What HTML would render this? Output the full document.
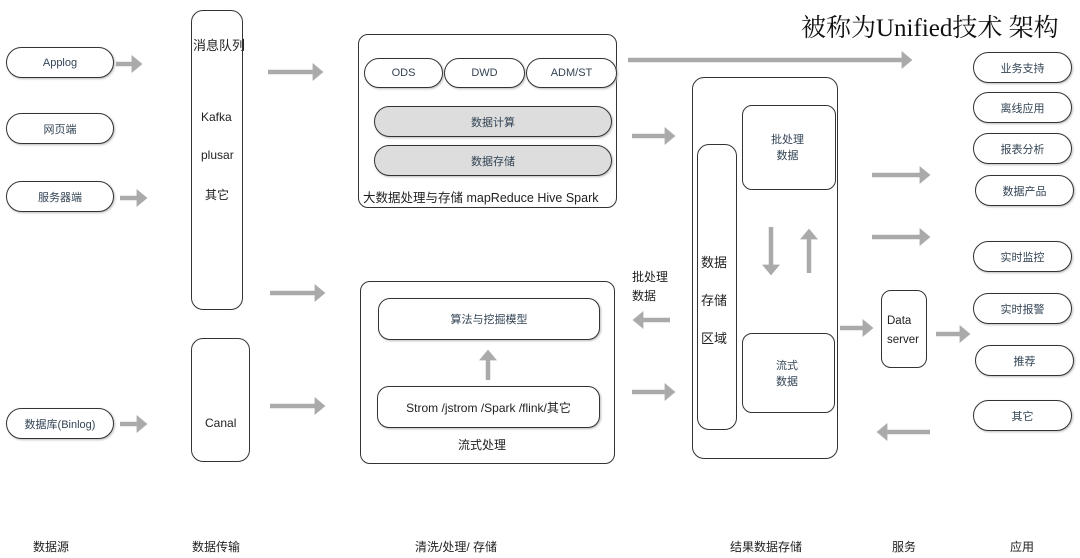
<!DOCTYPE html>
<html><head><meta charset="utf-8"><style>
body{margin:0;width:1080px;height:558px;background:#fff;position:relative;overflow:hidden;font-family:"Liberation Sans","Noto Sans CJK SC",sans-serif;color:#333}
.b{position:absolute;border:1.3px solid #333;border-radius:10px;box-sizing:border-box;background:#fff}
.p{position:absolute;border:1.3px solid #333;border-radius:16px;box-sizing:border-box;background:#fff;display:flex;align-items:center;justify-content:center;font-size:11px;color:#345;box-shadow:1px 1px 2px #bbb}
.g{background:#ddd}
.t{position:absolute;font-size:12px;color:#222;white-space:nowrap}
svg{position:absolute;left:0;top:0}
</style></head><body>
<div class="t" style="left:801px;top:8px;font-size:25px;font-family:'Liberation Serif','Noto Serif CJK SC',serif;color:#111">被称为Unified技术 架构</div>

<div class="p" style="left:6px;top:47px;width:108px;height:31px">Applog</div>
<div class="p" style="left:6px;top:113px;width:108px;height:31px">网页端</div>
<div class="p" style="left:6px;top:181px;width:108px;height:31px">服务器端</div>
<div class="p" style="left:6px;top:408px;width:108px;height:31px">数据库(Binlog)</div>

<div class="b" style="left:191px;top:10px;width:52px;height:300px;border-radius:12px"></div>
<div class="t" style="left:193px;top:35px;font-size:13px">消息队列</div>
<div class="t" style="left:201px;top:110px">Kafka</div>
<div class="t" style="left:201px;top:148px">plusar</div>
<div class="t" style="left:205px;top:186px">其它</div>
<div class="b" style="left:191px;top:338px;width:59px;height:124px;border-radius:12px"></div>
<div class="t" style="left:205px;top:416px">Canal</div>

<div class="b" style="left:358px;top:34px;width:259px;height:174px"></div>
<div class="p" style="left:364px;top:58px;width:79px;height:30px">ODS</div>
<div class="p" style="left:444px;top:58px;width:81px;height:30px">DWD</div>
<div class="p" style="left:526px;top:58px;width:91px;height:30px">ADM/ST</div>
<div class="p g" style="left:374px;top:106px;width:238px;height:31px">数据计算</div>
<div class="p g" style="left:374px;top:145px;width:238px;height:31px">数据存储</div>
<div class="t" style="left:363px;top:187px;font-size:12.5px">大数据处理与存储 mapReduce Hive Spark</div>

<div class="b" style="left:360px;top:281px;width:255px;height:183px"></div>
<div class="p" style="left:378px;top:298px;width:222px;height:42px;border-radius:12px">算法与挖掘模型</div>
<div class="p" style="left:377px;top:386px;width:223px;height:42px;border-radius:12px;font-size:12px;color:#222">Strom /jstrom /Spark /flink/其它</div>
<div class="t" style="left:458px;top:436px">流式处理</div>
<div class="t" style="left:632px;top:268px;line-height:19px">批处理<br>数据</div>

<div class="b" style="left:692px;top:77px;width:146px;height:382px;border-radius:12px"></div>
<div class="b" style="left:697px;top:144px;width:40px;height:286px;border-radius:12px"></div>
<div class="t" style="left:701px;top:244px;font-size:13px;line-height:38px">数据<br>存储<br>区域</div>
<div class="b" style="left:742px;top:105px;width:94px;height:85px"></div>
<div class="t" style="left:771px;top:132px;font-size:11px;line-height:16px;text-align:center;color:#345">批处理<br>数据</div>
<div class="b" style="left:742px;top:333px;width:93px;height:80px"></div>
<div class="t" style="left:776px;top:358px;font-size:11px;line-height:16px;text-align:center;color:#345">流式<br>数据</div>

<div class="b" style="left:881px;top:290px;width:46px;height:78px"></div>
<div class="t" style="left:887px;top:312px;line-height:19px;font-size:11.5px">Data<br>server</div>

<div class="p" style="left:973px;top:52px;width:99px;height:31px">业务支持</div>
<div class="p" style="left:973px;top:92px;width:99px;height:31px">离线应用</div>
<div class="p" style="left:973px;top:133px;width:99px;height:31px">报表分析</div>
<div class="p" style="left:975px;top:175px;width:99px;height:31px">数据产品</div>
<div class="p" style="left:973px;top:241px;width:99px;height:31px">实时监控</div>
<div class="p" style="left:973px;top:293px;width:99px;height:31px">实时报警</div>
<div class="p" style="left:975px;top:345px;width:99px;height:31px">推荐</div>
<div class="p" style="left:973px;top:400px;width:99px;height:31px">其它</div>

<div class="t" style="left:33px;top:538px">数据源</div>
<div class="t" style="left:192px;top:538px">数据传输</div>
<div class="t" style="left:415px;top:538px">清洗/处理/ 存储</div>
<div class="t" style="left:730px;top:538px">结果数据存储</div>
<div class="t" style="left:892px;top:538px">服务</div>
<div class="t" style="left:1010px;top:538px">应用</div>

<svg width="1080" height="558">
<defs><marker id="a" markerWidth="4" markerHeight="4" refX="1.2" refY="2" orient="auto" markerUnits="strokeWidth"><path d="M0,0 L2.4,2 L0,4Z" fill="#aaa"/></marker></defs>
<g stroke="#aaa" stroke-width="4.5" marker-end="url(#a)" fill="none">
<line x1="116" y1="64" x2="137" y2="64"/>
<line x1="120" y1="198" x2="142" y2="198"/>
<line x1="120" y1="424" x2="142" y2="424"/>
<line x1="268" y1="72" x2="318" y2="72"/>
<line x1="270" y1="293" x2="320" y2="293"/>
<line x1="270" y1="406" x2="320" y2="406"/>
<line x1="628" y1="60" x2="907" y2="60"/>
<line x1="632" y1="136" x2="670" y2="136"/>
<line x1="632" y1="392" x2="670" y2="392"/>
<line x1="670" y1="320" x2="638" y2="320"/>
<line x1="488" y1="380" x2="488" y2="355"/>
<line x1="771" y1="227" x2="771" y2="270"/>
<line x1="809" y1="273" x2="809" y2="234"/>
<line x1="872" y1="175" x2="925" y2="175"/>
<line x1="872" y1="237" x2="925" y2="237"/>
<line x1="840" y1="328" x2="868" y2="328"/>
<line x1="936" y1="334" x2="965" y2="334"/>
<line x1="930" y1="432" x2="882" y2="432"/>
</g></svg>
</body></html>
